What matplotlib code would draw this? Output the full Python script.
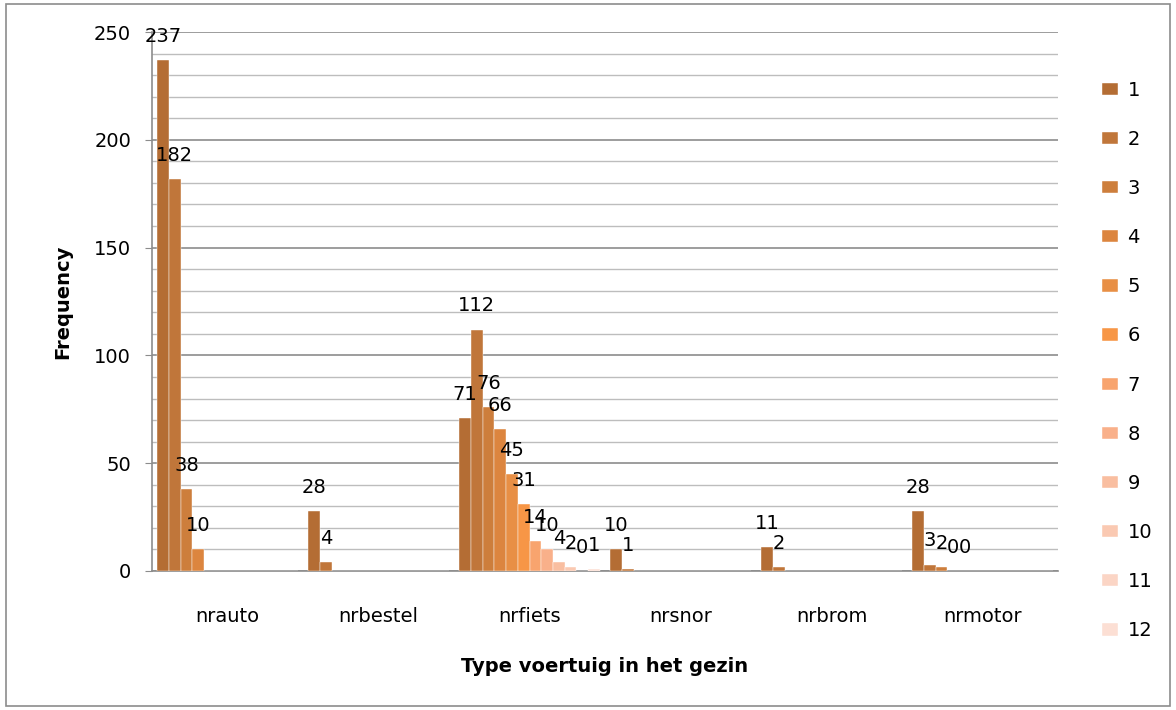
import numpy as np
import matplotlib.pyplot as plt
from matplotlib.patches import Rectangle
from matplotlib.ticker import MultipleLocator

plt.rcParams['font.family'] = ['DejaVu Sans']

categories = ['nrauto', 'nrbestel', 'nrfiets', 'nrsnor', 'nrbrom', 'nrmotor']
series_names = [str(i) for i in range(1, 13)]
nan = np.nan
# rows = series 1..12, columns = categories
counts = np.array([
    [237, 28, 71, 10, 11, 28],
    [182, 4, 112, 1, 2, 3],
    [38, nan, 76, nan, nan, 2],
    [10, nan, 66, nan, nan, 0],
    [nan, nan, 45, nan, nan, 0],
    [nan, nan, 31, nan, nan, nan],
    [nan, nan, 14, nan, nan, nan],
    [nan, nan, 10, nan, nan, nan],
    [nan, nan, 4, nan, nan, nan],
    [nan, nan, 2, nan, nan, nan],
    [nan, nan, 0, nan, nan, nan],
    [nan, nan, 1, nan, nan, nan],
])
colors = ['#b46d34', '#c0763a', '#cd7e3c', '#dc853f', '#e88f45', '#f79646',
          '#f8a46e', '#f9b08a', '#f9bea0', '#fac9b2', '#fbd5c5', '#fcdfd4']

fs = 14

fig = plt.figure(figsize=(11.76, 7.1), dpi=100)
fig.patches.append(Rectangle((0.005, 0.005), 0.99, 0.99, transform=fig.transFigure,
                             fill=False, edgecolor='#8c8c8c', lw=1.2))
ax = fig.add_axes([0.1293, 0.1958, 0.7704, 0.7591])

x = np.arange(len(categories))
w = 0.0775
for j in range(12):
    xs = x + (j - 5.5) * w
    vals = counts[j]
    ax.bar(xs, np.nan_to_num(vals), width=w, color=colors[j], label=series_names[j],
           edgecolor='white', linewidth=0.3, zorder=3)
    for xi, v in zip(xs, vals):
        if not np.isnan(v):
            ax.annotate(f'{int(v)}', (xi, v), xytext=(0, 13), textcoords='offset points',
                        ha='center', va='baseline', fontsize=fs, zorder=4)

ax.set_xlim(-0.5, 5.5)
ax.set_ylim(0, 250)
ax.yaxis.set_major_locator(MultipleLocator(50))
ax.yaxis.set_minor_locator(MultipleLocator(10))
ax.grid(axis='y', which='major', color='#8c8c8c', lw=1.2, zorder=0)
ax.grid(axis='y', which='minor', color='#bdbdbd', lw=1.0, zorder=0)
ax.set_axisbelow(True)

for s in ['top', 'right']:
    ax.spines[s].set_visible(False)
ax.spines['left'].set_color('#8c8c8c')
ax.spines['bottom'].set_color('#8c8c8c')
ax.spines['left'].set_linewidth(1.2)
ax.spines['bottom'].set_linewidth(1.2)

ax.set_xticks(x)
ax.set_xticklabels(categories)
ax.tick_params(axis='x', length=0, pad=26, labelsize=fs)
ax.tick_params(axis='y', which='major', length=5, color='#8c8c8c', pad=10, labelsize=fs)
ax.tick_params(axis='y', which='minor', length=0)

ax.set_ylabel('Frequency', fontsize=fs, fontweight='bold', labelpad=16)
ax.set_xlabel('Type voertuig in het gezin', fontsize=fs, fontweight='bold', labelpad=22)

fig.legend(loc='upper left', bbox_to_anchor=(0.929, 0.9), frameon=False,
           fontsize=fs, handlelength=0.8, handleheight=0.6, handletextpad=0.5,
           labelspacing=1.55, borderpad=0)

fig.savefig('out.png', dpi=100)
